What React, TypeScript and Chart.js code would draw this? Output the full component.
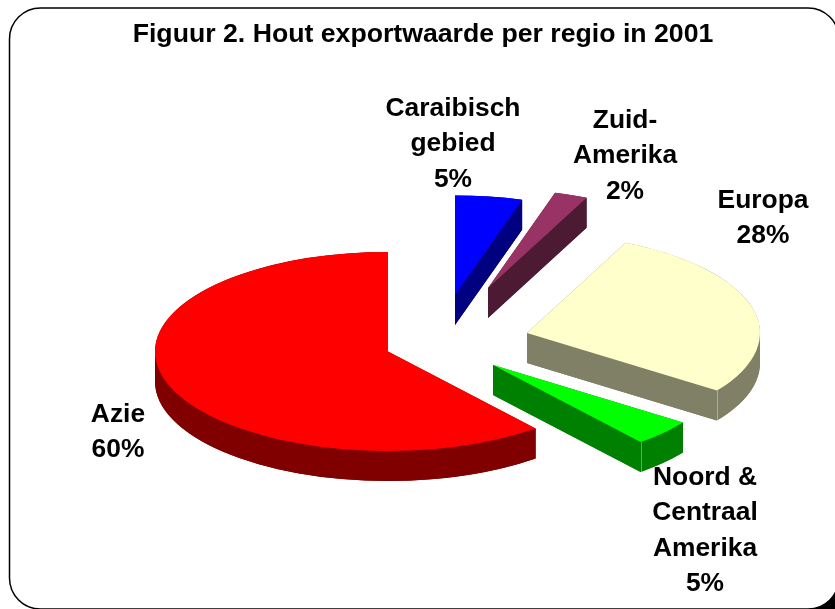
import React, { useEffect, useRef } from "react";
import { Chart, registerables } from "chart.js";

Chart.register(...registerables);

const TITLE = "Figuur 2. Hout exportwaarde per regio in 2001";
const categories = ["Caraibisch gebied", "Zuid-Amerika", "Europa", "Noord & Centraal Amerika", "Azie"];
// Slice shares as they measure on the picture; the printed labels are rounded.
const shares = [4.65, 2.3, 27.88, 4.25, 60.92];
const labelLines = [
  ["Caraibisch", "gebied", "5%"],
  ["Zuid-", "Amerika", "2%"],
  ["Europa", "28%"],
  ["Noord &", "Centraal", "Amerika", "5%"],
  ["Azie", "60%"],
];

// Styling
const topColors = ["#0000ff", "#993366", "#ffffcc", "#00ff00", "#ff0000"];
const sideColors = ["#000080", "#4d1a33", "#808066", "#008000", "#800000"];
const explodeX = [32, 65, 104, 70, -35];
const explodeY = [-39.5, -46.5, -1.5, 30.5, 17];
const seams = [false, false, true, true, false];
const labelCenterX = [453, 625, 763, 705, 118];
const labelFirstY = [109, 121, 201, 478, 415];
const LINE_GAP = 35.2;
const RX = 233;
const RY = 99.5;
const DEPTH = 30;
const FONT = '"Liberation Sans", Arial, sans-serif';

const drawSide = (ctx: any, ax: number, ay: number, start: number, end: number) => {
  // Floor of the slice
  ctx.beginPath();
  ctx.moveTo(ax, ay + DEPTH);
  ctx.ellipse(ax, ay + DEPTH, RX, RY, 0, start, end);
  ctx.closePath();
  ctx.fill();
  // Cut faces, and the vertical silhouette where the rim turns at its far left or right
  const faces = [start, end, 0, Math.PI].filter((a) => a >= start && a <= end);
  faces.forEach((a) => {
    const x = ax + Math.cos(a) * RX;
    const y = ay + Math.sin(a) * RY;
    ctx.beginPath();
    ctx.moveTo(ax, ay);
    ctx.lineTo(x, y);
    ctx.lineTo(x, y + DEPTH);
    ctx.lineTo(ax, ay + DEPTH);
    ctx.closePath();
    ctx.fill();
  });
  // Rim
  ctx.beginPath();
  ctx.ellipse(ax, ay, RX, RY, 0, start, end);
  ctx.ellipse(ax, ay + DEPTH, RX, RY, 0, end, start, true);
  ctx.closePath();
  ctx.fill();
};

const pie3d = {
  id: "pie3d",
  beforeDraw(chart: any) {
    const { ctx } = chart;
    ctx.save();
    ctx.fillStyle = "#ffffff";
    ctx.fillRect(0, 0, 835, 609);
    ctx.fillStyle = "#000000";
    ctx.fillRect(785, 560, 50, 49);
    ctx.beginPath();
    ctx.roundRect(9.5, 8, 829.5, 601, 31);
    ctx.fillStyle = "#ffffff";
    ctx.fill();
    ctx.strokeStyle = "#000000";
    ctx.lineWidth = 1.5;
    ctx.stroke();
    ctx.restore();
  },
  beforeDatasetDraw(chart: any, args: any) {
    const { ctx } = chart;
    const arcs = chart.getDatasetMeta(args.index).data;
    arcs.forEach((arc: any, i: number) => {
      const ax = arc.x + explodeX[i];
      const ay = arc.y + explodeY[i];
      ctx.save();
      ctx.fillStyle = sideColors[i];
      drawSide(ctx, ax, ay, arc.startAngle, arc.endAngle);
      ctx.translate(ax, ay);
      ctx.scale(RX / arc.outerRadius, RY / arc.outerRadius);
      ctx.translate(-arc.x, -arc.y);
      arc.draw(ctx);
      ctx.restore();
      if (seams[i]) {
        const px = ax + Math.cos(arc.endAngle) * RX;
        const py = ay + Math.sin(arc.endAngle) * RY;
        ctx.save();
        ctx.strokeStyle = "rgba(255,255,255,0.35)";
        ctx.lineWidth = 1;
        ctx.beginPath();
        ctx.moveTo(Math.round(px) + 0.5, py);
        ctx.lineTo(Math.round(px) + 0.5, py + DEPTH);
        ctx.stroke();
        ctx.restore();
      }
    });
    return false;
  },
  afterDatasetsDraw(chart: any) {
    const { ctx } = chart;
    ctx.save();
    ctx.fillStyle = "#000000";
    ctx.font = `bold 26.4px ${FONT}`;
    ctx.textAlign = "center";
    ctx.textBaseline = "middle";
    labelLines.forEach((lines, i) => {
      lines.forEach((line, j) => {
        ctx.fillText(line, labelCenterX[i], labelFirstY[i] + j * LINE_GAP);
      });
    });
    ctx.restore();
  },
};

export default function App() {
  const ref = useRef<HTMLCanvasElement>(null);
  useEffect(() => {
    const chart = new Chart(ref.current!, {
      type: "pie",
      data: {
        labels: categories,
        datasets: [
          {
            data: shares,
            backgroundColor: topColors,
            borderWidth: 0,
          },
        ],
      },
      options: {
        responsive: false,
        animation: false,
        rotation: 0,
        layout: { padding: { left: 11, top: 19, right: 0, bottom: 0 } },
        plugins: {
          legend: { display: false },
          tooltip: { enabled: false },
          title: {
            display: true,
            text: TITLE,
            color: "#000000",
            font: { family: FONT, size: 26.67, weight: "bold" },
            padding: { top: 0, bottom: 9 },
          },
        },
      },
      plugins: [pie3d],
    } as any);
    return () => chart.destroy();
  }, []);
  return (
    <div style={{ position: "absolute", left: 0, top: 0, width: 835, height: 609, overflow: "hidden" }}>
      <canvas ref={ref} width={835} height={609} style={{ display: "block" }} />
    </div>
  );
}
